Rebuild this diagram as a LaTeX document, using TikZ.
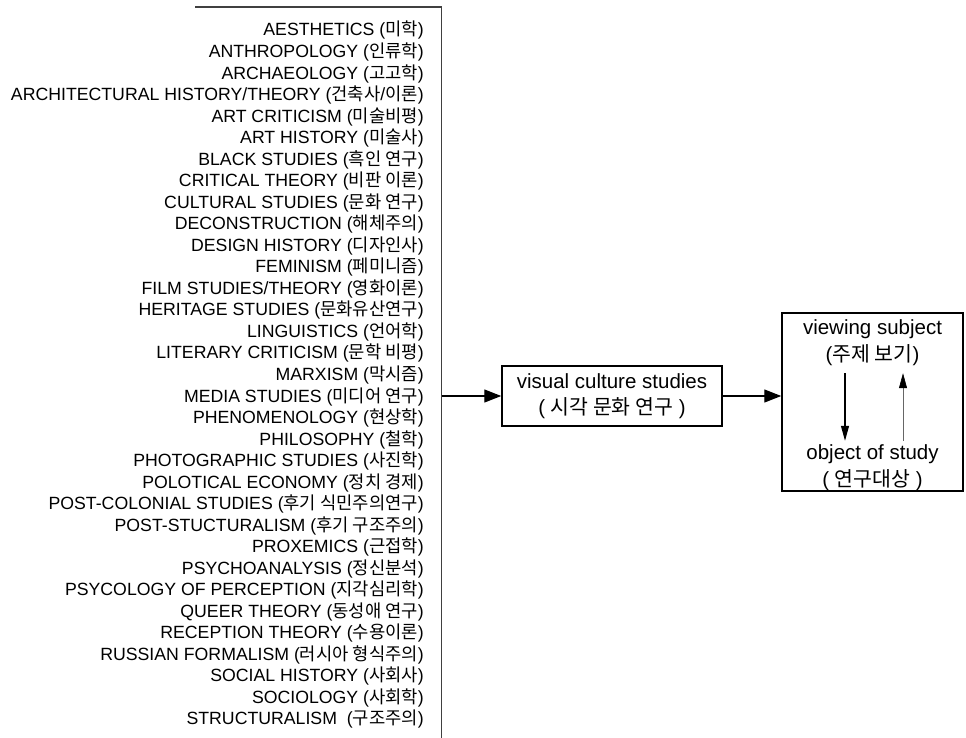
\documentclass[tikz,border=0pt]{standalone}
\usepackage{fontspec}
\setmainfont{Liberation Sans}
\newfontfamily\krf[Scale=1.0]{Noto Sans CJK KR}
\usetikzlibrary{arrows.meta}
\begin{document}
\begin{tikzpicture}[x=1pt,y=-1pt,
  item/.style={anchor=base east, inner sep=0pt, font=\fontsize{17.7}{20}\selectfont},
  box/.style={draw, line width=1.5pt, inner sep=0pt},
  big/.style={font=\fontsize{20.5}{26.5}\selectfont, align=center, inner sep=0pt},
  frame/.style={line width=1.2pt, draw=black!75},
  mainarr/.style={line width=1.3pt, -{Triangle[length=17pt,width=13pt]}},
  downarr/.style={line width=1.1pt, -{Triangle[length=15pt,width=8pt]}},
  uparr/.style={line width=0.6pt, draw=black!60, -{Triangle[length=15pt,width=8pt,color=black]}}]
\useasboundingbox (0,0) rectangle (966,738);
% frame of the list
\coordinate (ftl) at (195,7);
\coordinate (ftr) at (441.5,7);
\coordinate (fbr) at (441.5,738);
\draw[frame] (ftl) -- (ftr) -- (fbr);
% list items
\foreach \t [count=\i] in {
  {AESTHETICS ({\krf 미학})},
  {ANTHROPOLOGY ({\krf 인류학})},
  {ARCHAEOLOGY ({\krf 고고학})},
  {ARCHITECTURAL HISTORY/THEORY ({\krf 건축사}/{\krf 이론})},
  {ART CRITICISM ({\krf 미술비평})},
  {ART HISTORY ({\krf 미술사})},
  {BLACK STUDIES ({\krf 흑인 연구})},
  {CRITICAL THEORY ({\krf 비판 이론})},
  {CULTURAL STUDIES ({\krf 문화 연구})},
  {DECONSTRUCTION ({\krf 해체주의})},
  {DESIGN HISTORY ({\krf 디자인사})},
  {FEMINISM ({\krf 페미니즘})},
  {FILM STUDIES/THEORY ({\krf 영화이론})},
  {HERITAGE STUDIES ({\krf 문화유산연구})},
  {LINGUISTICS ({\krf 언어학})},
  {LITERARY CRITICISM ({\krf 문학 비평})},
  {MARXISM ({\krf 막시즘})},
  {MEDIA STUDIES ({\krf 미디어 연구})},
  {PHENOMENOLOGY ({\krf 현상학})},
  {PHILOSOPHY ({\krf 철학})},
  {PHOTOGRAPHIC STUDIES ({\krf 사진학})},
  {POLOTICAL ECONOMY ({\krf 정치 경제})},
  {POST-COLONIAL STUDIES ({\krf 후기 식민주의연구})},
  {POST-STUCTURALISM ({\krf 후기 구조주의})},
  {PROXEMICS ({\krf 근접학})},
  {PSYCHOANALYSIS ({\krf 정신분석})},
  {PSYCOLOGY OF PERCEPTION ({\krf 지각심리학})},
  {QUEER THEORY ({\krf 동성애 연구})},
  {RECEPTION THEORY ({\krf 수용이론})},
  {RUSSIAN FORMALISM ({\krf 러시아 형식주의})},
  {SOCIAL HISTORY ({\krf 사회사})},
  {SOCIOLOGY ({\krf 사회학})},
  {STRUCTURALISM~ ({\krf 구조주의})}}
  \node[item] (l\i) at (424,{36+(\i-1)*21.53}) {\t};
% middle box
\node[box, big, minimum width=220pt, minimum height=60pt] (vcs) at (612,396)
  {visual culture studies\\( {\krf 시각 문화 연구} )};
% right box
\node[box, minimum width=181pt, minimum height=178pt] (vb) at (872.5,402) {};
\node[big, minimum height=61pt] (vs) at (872.5,342.5) {viewing subject\\({\krf 주제 보기})};
\node[big, minimum height=53pt] (os) at (872.5,467.5) {object of study\\( {\krf 연구대상} )};
% connectors
\coordinate (fr) at (441.5,396);
\draw[mainarr] (fr) -- (vcs.west);
\draw[mainarr] (vcs.east) -- (vb.west |- vcs.east);
\coordinate (dx) at (845,0);
\coordinate (ux) at (903,0);
\draw[downarr] (vs.south -| dx) -- (os.north -| dx);
\draw[uparr] (os.north -| ux) -- (vs.south -| ux);
\end{tikzpicture}
\end{document}
